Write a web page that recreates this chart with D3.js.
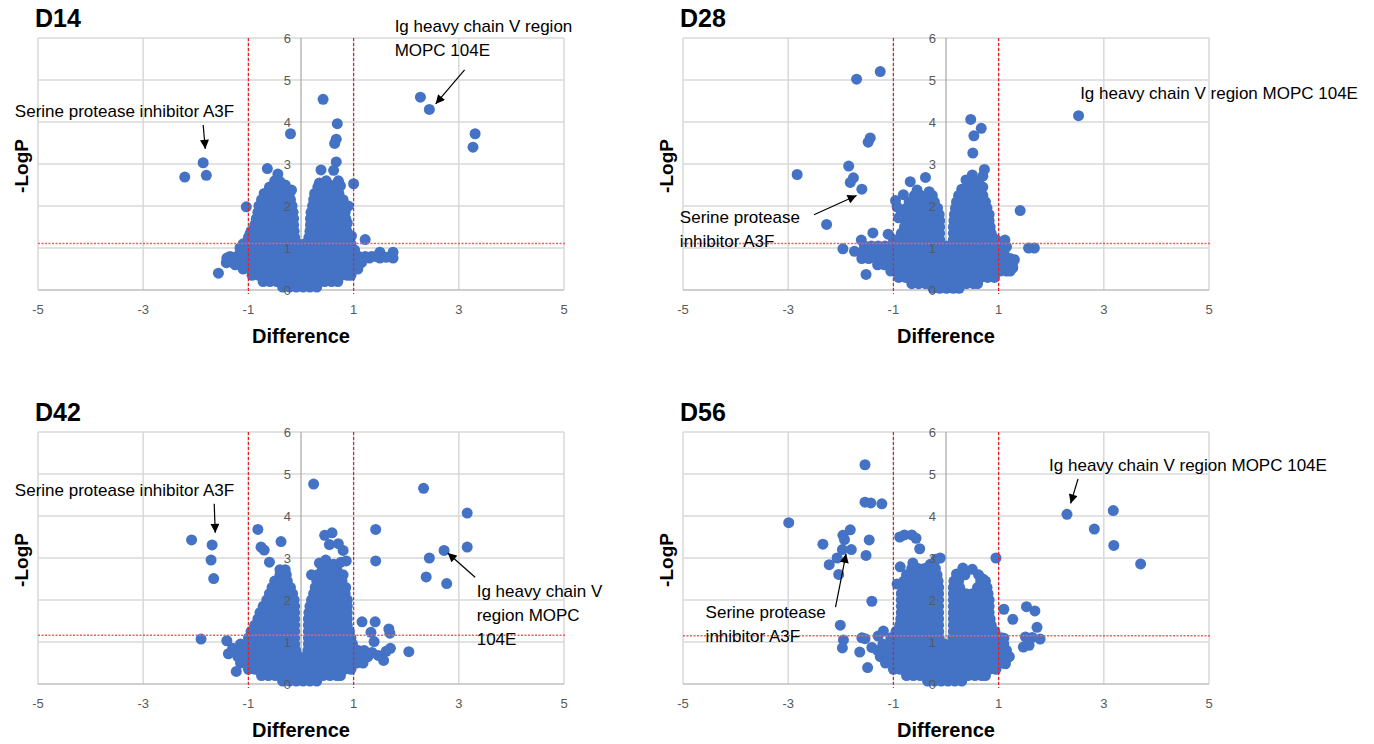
<!DOCTYPE html>
<html>
<head>
<meta charset="utf-8">
<script src="https://cdn.jsdelivr.net/npm/d3@7"></script>
<style>
  body { margin: 0; background: #fff; }
  text { font-family: "Liberation Sans", Arial, sans-serif; }
</style>
</head>
<body>
<svg id="chart" width="1374" height="744"></svg>
<script>
const panelNames = ['D14', 'D28', 'D42', 'D56'];
const xTicks = [-5, -3, -1, 1, 3, 5];
const yTicks = [0, 1, 2, 3, 4, 5, 6];
const foldCut = [-1, 1];
const pCut = [1.11, 1.11, 1.16, 1.15];

// single proteins away from the main cloud [difference, -logP]
const d14Points = [
  [-2.21, 2.69], [-1.86, 3.03], [-1.8, 2.73], [-1.57, 0.4], [-1.04, 1.98], [-0.97, 1.33],
  [-1.41, 0.76], [-1.28, 0.72], [-1.25, 0.6], [-1.16, 1.0],
  [-0.2, 3.72], [0.42, 4.54], [0.69, 3.96], [0.67, 3.59], [0.64, 3.49], [0.67, 3.05],
  [0.38, 2.86], [0.62, 2.85], [0.71, 2.6], [0.75, 2.48], [0.72, 2.55], [1.0, 2.53],
  [-0.64, 2.89], [-0.44, 2.76], [-0.5, 2.6], [-0.4, 2.58], [-0.18, 2.38], [-0.3, 2.5],
  [2.27, 4.59], [2.44, 4.3], [3.31, 3.72], [3.27, 3.4],
  [0.96, 1.29], [1.22, 1.2], [0.9, 2.0], [0.88, 1.6],
  [1.5, 0.9], [1.75, 0.9], [1.5, 0.76], [1.75, 0.76], [1.3, 0.76], [1.42, 0.8], [1.62, 0.78],
  [0.35, 2.55], [0.48, 2.6], [0.55, 2.5]
];
// dense cloud, one row per -logP level: [ -logP, [differences] ]
const d14Cloud = [
  [2.45, [-0.6, -0.48, -0.36, 0.32, 0.45, 0.58]],
  [2.3, [-0.7, -0.57, -0.44, -0.31, -0.22, 0.26, 0.36, 0.47, 0.59, 0.72]],
  [2.15, [-0.75, -0.62, -0.49, -0.36, -0.24, -0.2, 0.24, 0.33, 0.44, 0.57, 0.7, 0.8]],
  [2.0, [-0.8, -0.67, -0.54, -0.41, -0.28, -0.17, 0.22, 0.32, 0.43, 0.54, 0.67, 0.8]],
  [1.85, [-0.82, -0.69, -0.56, -0.43, -0.3, -0.15, 0.19, 0.3, 0.42, 0.54, 0.66, 0.78, 0.84]],
  [1.7, [-0.85, -0.72, -0.59, -0.46, -0.33, -0.2, -0.14, 0.18, 0.3, 0.42, 0.54, 0.66, 0.78, 0.85]],
  [1.55, [-0.88, -0.75, -0.62, -0.49, -0.36, -0.23, -0.14, 0.18, 0.3, 0.42, 0.54, 0.66, 0.78, 0.86]],
  [1.4, [-0.95, -0.82, -0.69, -0.56, -0.43, -0.3, -0.17, -0.13, 0.17, 0.29, 0.41, 0.53, 0.65, 0.77, 0.87]],
  [1.25, [-1.0, -0.87, -0.74, -0.61, -0.48, -0.35, -0.22, -0.12, 0.15, 0.27, 0.39, 0.51, 0.63, 0.75, 0.87, 0.9]],
  [1.1, [-1.1, -0.97, -0.84, -0.71, -0.58, -0.45, -0.32, -0.19, -0.06, 0.07, 0.2, 0.33, 0.46, 0.59, 0.72, 0.85, 0.95]],
  [0.95, [-1.15, -1.02, -0.89, -0.76, -0.63, -0.5, -0.37, -0.24, -0.11, 0.02, 0.15, 0.28, 0.41, 0.54, 0.67, 0.8, 0.93, 1.02]],
  [0.8, [-1.35, -1.22, -1.09, -0.96, -0.83, -0.7, -0.57, -0.44, -0.31, -0.18, -0.05, 0.08, 0.21, 0.34, 0.47, 0.6, 0.73, 0.86, 0.99, 1.1, 1.22, 1.34]],
  [0.65, [-1.42, -1.3, -1.17, -1.04, -0.91, -0.78, -0.65, -0.52, -0.39, -0.26, -0.13, 0, 0.13, 0.26, 0.39, 0.52, 0.65, 0.78, 0.91, 1.04, 1.15]],
  [0.5, [-1.1, -0.97, -0.84, -0.71, -0.58, -0.45, -0.32, -0.19, -0.06, 0.07, 0.2, 0.33, 0.46, 0.59, 0.72, 0.85, 0.98, 1.08]],
  [0.35, [-0.93, -0.8, -0.67, -0.54, -0.41, -0.28, -0.15, -0.02, 0.11, 0.24, 0.37, 0.5, 0.63, 0.76, 0.88, 0.95]],
  [0.2, [-0.72, -0.59, -0.46, -0.33, -0.2, -0.07, 0.06, 0.19, 0.32, 0.45, 0.58, 0.7]],
  [0.07, [-0.35, -0.22, -0.09, 0.04, 0.17, 0.3]]
];

const d28Points = [
  [-1.25, 5.2], [-1.7, 5.02], [2.52, 4.15], [0.47, 4.06], [0.67, 3.85], [0.53, 3.67], [0.51, 3.26],
  [-1.44, 3.62], [-1.48, 3.52], [-1.85, 2.95], [-2.83, 2.75], [-1.76, 2.67], [-1.82, 2.56], [-1.6, 2.4],
  [-2.27, 1.56], [1.41, 1.89], [-0.39, 2.68], [-0.68, 2.58], [0.73, 2.87], [0.5, 2.74], [0.7, 2.71],
  [-0.32, 2.34], [-0.81, 2.27], [-1.39, 1.36], [-1.1, 1.33], [-1.61, 1.19], [-1.96, 0.98], [-1.74, 0.92],
  [-1.52, 0.37], [1.57, 1.0], [1.68, 1.0], [-0.96, 2.13], [-0.93, 1.98], [1.12, 1.19], [1.15, 1.03],
  [1.3, 0.72], [1.27, 0.53], [0.55, 2.55], [0.38, 2.62], [0.7, 2.45], [0.62, 2.6], [-0.85, 1.88],
  [-0.9, 1.72], [-0.55, 2.38]
];
const d28Cloud = [
  [2.4, [0.3, 0.42, 0.54, 0.62]],
  [2.25, [-0.6, -0.48, -0.36, -0.26, 0.24, 0.36, 0.48, 0.6, 0.7]],
  [2.1, [-0.7, -0.58, -0.46, -0.34, -0.22, 0.2, 0.32, 0.44, 0.56, 0.68, 0.75]],
  [1.95, [-0.75, -0.63, -0.51, -0.39, -0.27, -0.16, 0.18, 0.3, 0.42, 0.54, 0.66, 0.78]],
  [1.8, [-0.76, -0.64, -0.52, -0.4, -0.28, -0.18, -0.13, 0.16, 0.28, 0.4, 0.52, 0.64, 0.76, 0.82]],
  [1.65, [-0.77, -0.65, -0.53, -0.41, -0.29, -0.18, -0.12, 0.15, 0.27, 0.39, 0.51, 0.63, 0.75, 0.82]],
  [1.5, [-0.79, -0.67, -0.55, -0.43, -0.31, -0.19, -0.12, 0.14, 0.26, 0.38, 0.5, 0.62, 0.74, 0.84]],
  [1.35, [-0.85, -0.73, -0.61, -0.49, -0.37, -0.25, -0.12, 0.14, 0.26, 0.38, 0.5, 0.62, 0.74, 0.86]],
  [1.2, [-1.0, -0.87, -0.74, -0.61, -0.48, -0.35, -0.22, -0.12, 0.14, 0.26, 0.38, 0.5, 0.62, 0.74, 0.86, 0.95]],
  [1.05, [-1.55, -1.42, -1.29, -1.16, -1.03, -0.9, -0.77, -0.64, -0.51, -0.38, -0.25, -0.12, 0.01, 0.14, 0.27, 0.4, 0.53, 0.66, 0.79, 0.92, 1.05]],
  [0.9, [-1.6, -1.47, -1.34, -1.21, -1.08, -0.95, -0.82, -0.69, -0.56, -0.43, -0.3, -0.17, -0.04, 0.09, 0.22, 0.35, 0.48, 0.61, 0.74, 0.87, 1.0, 1.1]],
  [0.75, [-1.6, -1.47, -1.34, -1.21, -1.08, -0.95, -0.82, -0.69, -0.56, -0.43, -0.3, -0.17, -0.04, 0.09, 0.22, 0.35, 0.48, 0.61, 0.74, 0.87, 1.0, 1.12, 1.22]],
  [0.6, [-1.3, -1.17, -1.04, -0.91, -0.78, -0.65, -0.52, -0.39, -0.26, -0.13, 0, 0.13, 0.26, 0.39, 0.52, 0.65, 0.78, 0.91, 1.04, 1.16, 1.26]],
  [0.45, [-1.05, -0.92, -0.79, -0.66, -0.53, -0.4, -0.27, -0.14, -0.01, 0.12, 0.25, 0.38, 0.51, 0.64, 0.77, 0.9, 1.03, 1.15, 1.22]],
  [0.3, [-0.9, -0.77, -0.64, -0.51, -0.38, -0.25, -0.12, 0.01, 0.14, 0.27, 0.4, 0.53, 0.66, 0.79, 0.92]],
  [0.15, [-0.65, -0.52, -0.39, -0.26, -0.13, 0, 0.13, 0.26, 0.39, 0.52, 0.6]],
  [0.04, [-0.25, -0.12, 0.01, 0.14, 0.25]]
];

const d42Points = [
  [0.24, 4.76], [2.33, 4.66], [3.16, 4.07], [3.16, 3.26], [1.42, 3.68], [1.42, 2.93], [2.72, 3.18],
  [2.44, 3.0], [2.38, 2.55], [2.77, 2.39], [-2.08, 3.43], [-1.69, 3.31], [-1.71, 2.95], [-1.66, 2.51],
  [-0.82, 3.68], [-0.38, 3.39], [-0.76, 3.26], [-0.7, 3.19], [-0.6, 2.9], [0.45, 3.54], [0.59, 3.6],
  [0.54, 3.32], [0.71, 3.34], [0.8, 3.18], [0.86, 2.93], [-1.9, 1.07], [-1.41, 1.03], [-1.23, 0.3],
  [1.16, 1.48], [1.41, 1.48], [1.33, 1.23], [1.39, 1.01], [1.67, 1.31], [1.69, 1.21], [1.7, 0.85],
  [1.62, 0.78], [2.05, 0.77], [1.57, 0.56], [1.07, 0.77], [1.26, 0.66], [-0.4, 2.72], [-0.3, 2.72],
  [0.35, 2.88], [0.47, 2.95], [0.62, 2.85], [0.76, 2.9], [0.4, 2.7], [1.35, 0.75], [1.47, 0.68],
  [-1.3, 0.85], [-1.38, 0.72], [0.2, 2.6]
];
const d42Cloud = [
  [2.75, [0.42, 0.55, 0.68]],
  [2.6, [-0.4, -0.28, 0.32, 0.44, 0.56, 0.68, 0.8]],
  [2.45, [-0.5, -0.38, -0.26, 0.3, 0.42, 0.54, 0.66, 0.78]],
  [2.3, [-0.55, -0.43, -0.31, -0.2, 0.27, 0.39, 0.51, 0.63, 0.75, 0.85]],
  [2.15, [-0.6, -0.48, -0.36, -0.24, -0.16, 0.24, 0.36, 0.48, 0.6, 0.72, 0.84]],
  [2.0, [-0.65, -0.53, -0.41, -0.29, -0.17, -0.13, 0.2, 0.32, 0.44, 0.56, 0.68, 0.8, 0.88]],
  [1.85, [-0.72, -0.6, -0.48, -0.36, -0.24, -0.12, 0.17, 0.29, 0.41, 0.53, 0.65, 0.77, 0.88]],
  [1.7, [-0.78, -0.66, -0.54, -0.42, -0.3, -0.18, -0.12, 0.15, 0.27, 0.39, 0.51, 0.63, 0.75, 0.88]],
  [1.55, [-0.82, -0.7, -0.58, -0.46, -0.34, -0.22, -0.12, 0.14, 0.26, 0.38, 0.5, 0.62, 0.74, 0.88]],
  [1.4, [-0.88, -0.76, -0.64, -0.52, -0.4, -0.28, -0.16, -0.12, 0.14, 0.26, 0.38, 0.5, 0.62, 0.74, 0.88]],
  [1.25, [-0.95, -0.83, -0.71, -0.59, -0.47, -0.35, -0.23, -0.12, 0.14, 0.26, 0.38, 0.5, 0.62, 0.74, 0.86, 0.92]],
  [1.1, [-1.0, -0.88, -0.76, -0.64, -0.52, -0.4, -0.28, -0.16, -0.12, 0.14, 0.26, 0.38, 0.5, 0.62, 0.74, 0.86, 0.95]],
  [0.95, [-1.15, -1.03, -0.91, -0.79, -0.67, -0.55, -0.43, -0.31, -0.19, -0.12, 0.14, 0.26, 0.38, 0.5, 0.62, 0.74, 0.86, 0.98]],
  [0.8, [-1.25, -1.13, -1.01, -0.89, -0.77, -0.65, -0.53, -0.41, -0.29, -0.17, -0.1, 0.13, 0.25, 0.37, 0.49, 0.61, 0.73, 0.85, 0.97, 1.09, 1.2]],
  [0.65, [-1.2, -1.07, -0.94, -0.81, -0.68, -0.55, -0.42, -0.29, -0.16, -0.03, 0.1, 0.23, 0.36, 0.49, 0.62, 0.75, 0.88, 1.01, 1.14, 1.27]],
  [0.5, [-1.15, -1.02, -0.89, -0.76, -0.63, -0.5, -0.37, -0.24, -0.11, 0.02, 0.15, 0.28, 0.41, 0.54, 0.67, 0.8, 0.93, 1.06, 1.18]],
  [0.35, [-1.0, -0.87, -0.74, -0.61, -0.48, -0.35, -0.22, -0.09, 0.04, 0.17, 0.3, 0.43, 0.56, 0.69, 0.82, 0.95]],
  [0.2, [-0.75, -0.62, -0.49, -0.36, -0.23, -0.1, 0.03, 0.16, 0.29, 0.42, 0.55, 0.68, 0.75]],
  [0.07, [-0.35, -0.22, -0.09, 0.04, 0.17, 0.3]]
];

const d56Points = [
  [-1.54, 5.22], [-1.54, 4.33], [-1.43, 4.31], [-1.22, 4.29], [-2.99, 3.84], [2.3, 4.04], [3.18, 4.13],
  [2.82, 3.69], [3.19, 3.3], [3.7, 2.86], [-1.82, 3.67], [-1.96, 3.54], [-1.93, 3.44], [-2.34, 3.33],
  [-1.46, 3.43], [-1.97, 3.2], [-1.8, 3.2], [-2.07, 3.0], [-2.22, 2.84], [-2.04, 2.61], [-1.52, 3.06],
  [-1.41, 1.97], [-2.01, 1.4], [-1.95, 1.05], [-1.97, 0.86], [-1.64, 0.76], [-1.49, 0.39], [-1.6, 1.1],
  [-1.54, 1.08], [-1.41, 0.87], [-1.29, 1.14], [-1.19, 1.26], [0.95, 3.0], [1.1, 1.78], [1.27, 1.54],
  [1.53, 1.84], [1.69, 1.74], [1.73, 1.35], [1.51, 1.12], [1.64, 1.11], [1.79, 1.07], [1.47, 0.88],
  [1.58, 0.92], [1.1, 1.09], [1.2, 0.65], [1.13, 0.48], [-0.88, 3.5], [-0.79, 3.55], [-0.65, 3.55],
  [-0.57, 3.47], [-0.5, 3.22], [-0.11, 3.0], [-0.19, 2.97], [-0.63, 2.88], [-0.87, 2.79], [-0.93, 2.38],
  [0.32, 2.76], [0.5, 2.73], [0.2, 2.62], [0.62, 2.6], [0.7, 2.5], [-0.3, 2.85], [-0.2, 2.75]
];
const d56Cloud = [
  [2.75, [-0.65, -0.53, -0.41, -0.3]],
  [2.6, [-0.75, -0.63, -0.51, -0.39, -0.27, -0.17, 0.24, 0.36]],
  [2.45, [-0.8, -0.68, -0.56, -0.44, -0.32, -0.2, -0.15, 0.15, 0.24, 0.66, 0.75]],
  [2.3, [-0.82, -0.7, -0.58, -0.46, -0.34, -0.22, -0.14, 0.14, 0.26, 0.6, 0.7, 0.78]],
  [2.15, [-0.85, -0.73, -0.61, -0.49, -0.37, -0.25, -0.14, 0.14, 0.26, 0.38, 0.5, 0.62, 0.74, 0.8]],
  [2.0, [-0.85, -0.73, -0.61, -0.49, -0.37, -0.25, -0.14, 0.14, 0.26, 0.38, 0.5, 0.62, 0.74, 0.82]],
  [1.85, [-0.85, -0.73, -0.61, -0.49, -0.37, -0.25, -0.14, 0.14, 0.26, 0.38, 0.5, 0.62, 0.74, 0.82]],
  [1.7, [-0.85, -0.73, -0.61, -0.49, -0.37, -0.25, -0.14, 0.14, 0.26, 0.38, 0.5, 0.62, 0.74, 0.82]],
  [1.55, [-0.86, -0.74, -0.62, -0.5, -0.38, -0.26, -0.14, 0.14, 0.26, 0.38, 0.5, 0.62, 0.74, 0.84]],
  [1.4, [-0.88, -0.76, -0.64, -0.52, -0.4, -0.28, -0.14, 0.14, 0.26, 0.38, 0.5, 0.62, 0.74, 0.86]],
  [1.25, [-0.95, -0.83, -0.71, -0.59, -0.47, -0.35, -0.23, -0.14, 0.14, 0.26, 0.38, 0.5, 0.62, 0.74, 0.86, 0.93]],
  [1.1, [-1.05, -0.93, -0.81, -0.69, -0.57, -0.45, -0.33, -0.21, -0.13, 0.13, 0.25, 0.37, 0.49, 0.61, 0.73, 0.85, 0.97, 1.05]],
  [0.95, [-1.2, -1.07, -0.94, -0.81, -0.68, -0.55, -0.42, -0.29, -0.16, -0.03, 0.1, 0.23, 0.36, 0.49, 0.62, 0.75, 0.88, 1.01, 1.1]],
  [0.8, [-1.3, -1.17, -1.04, -0.91, -0.78, -0.65, -0.52, -0.39, -0.26, -0.13, 0, 0.13, 0.26, 0.39, 0.52, 0.65, 0.78, 0.91, 1.04, 1.15]],
  [0.65, [-1.25, -1.12, -0.99, -0.86, -0.73, -0.6, -0.47, -0.34, -0.21, -0.08, 0.05, 0.18, 0.31, 0.44, 0.57, 0.7, 0.83, 0.96, 1.09, 1.2]],
  [0.5, [-1.15, -1.02, -0.89, -0.76, -0.63, -0.5, -0.37, -0.24, -0.11, 0.02, 0.15, 0.28, 0.41, 0.54, 0.67, 0.8, 0.93, 1.06, 1.12]],
  [0.35, [-1.0, -0.87, -0.74, -0.61, -0.48, -0.35, -0.22, -0.09, 0.04, 0.17, 0.3, 0.43, 0.56, 0.69, 0.82, 0.95]],
  [0.2, [-0.75, -0.62, -0.49, -0.36, -0.23, -0.1, 0.03, 0.16, 0.29, 0.42, 0.55, 0.68, 0.75]],
  [0.07, [-0.35, -0.22, -0.09, 0.04, 0.17, 0.3]]
];

// annotations in data units: text lines anchored at (x, y), arrows [x1, y1, x2, y2]
const igLabel = 'Ig heavy chain V region MOPC 104E';
const serpinLabel = 'Serine protease inhibitor A3F';
const panelNotes = [
  [{ lines: ['Ig heavy chain V region', 'MOPC 104E'], x: 1.78, y: 6.14 },
   { lines: [serpinLabel], x: -5.44, y: 4.12 }],
  [{ lines: [igLabel], x: 2.55, y: 4.54 },
   { lines: ['Serine protease', 'inhibitor A3F'], x: -5.06, y: 1.6 }],
  [{ lines: [serpinLabel], x: -5.44, y: 4.48 },
   { lines: ['Ig heavy chain V', 'region MOPC', '104E'], x: 3.34, y: 2.07 }],
  [{ lines: [igLabel], x: 1.96, y: 5.07 },
   { lines: ['Serine protease', 'inhibitor A3F'], x: -4.57, y: 1.57 }]
];
const panelArrows = [
  [[3.11, 5.24, 2.56, 4.43], [-1.86, 3.93, -1.82, 3.36]],
  [[-2.51, 1.79, -1.7, 2.25]],
  [[-1.65, 4.29, -1.63, 3.6], [3.31, 2.54, 2.79, 3.12]],
  [[2.51, 4.88, 2.37, 4.3], [-2.1, 1.83, -1.9, 3.1]]
];

const panelPoints = [d14Points, d28Points, d42Points, d56Points];
const panelClouds = [d14Cloud, d28Cloud, d42Cloud, d56Cloud];

const svg = d3.select('#chart');
const plotW = 526, plotH = 252;
const origins = [[38, 38], [683, 38], [38, 432], [683, 432]];

svg.append('defs').append('marker')
  .attr('id', 'head')
  .attr('viewBox', '0 0 10 10')
  .attr('refX', 10).attr('refY', 5)
  .attr('markerWidth', 10).attr('markerHeight', 9)
  .attr('markerUnits', 'userSpaceOnUse')
  .attr('orient', 'auto')
  .append('path').attr('d', 'M0,0L10,5L0,10Z').attr('fill', '#000');

panelNames.forEach((name, i) => {
  const [left, top] = origins[i];
  const g = svg.append('g').attr('transform', `translate(${left},${top})`);
  const x = d3.scaleLinear().domain([-5, 5]).range([0, plotW]);
  const y = d3.scaleLinear().domain([0, 6]).range([plotH, 0]);

  // grid
  g.selectAll('.vgrid').data(xTicks).enter().append('line')
    .attr('x1', d => x(d)).attr('x2', d => x(d))
    .attr('y1', y(0)).attr('y2', y(6))
    .attr('stroke', '#d9d9d9').attr('stroke-width', 1.5);
  g.selectAll('.hgrid').data(yTicks).enter().append('line')
    .attr('x1', x(-5)).attr('x2', x(5))
    .attr('y1', d => y(d)).attr('y2', d => y(d))
    .attr('stroke', d => d === 0 ? '#bfbfbf' : '#d9d9d9').attr('stroke-width', 1.5);
  g.append('line')
    .attr('x1', x(0)).attr('x2', x(0)).attr('y1', y(0)).attr('y2', y(6))
    .attr('stroke', '#a6a6a6').attr('stroke-width', 1.2);

  // points
  const cloud = panelClouds[i].flatMap(([p, xs]) => xs.map(d => [d, p]));
  const all = cloud.concat(panelPoints[i]);
  g.selectAll('.pt').data(all).enter().append('circle')
    .attr('cx', d => x(d[0])).attr('cy', d => y(d[1]))
    .attr('r', 5.5).attr('fill', '#4472C4');

  // cut-off lines
  g.selectAll('.fold').data(foldCut).enter().append('line')
    .attr('x1', d => x(d)).attr('x2', d => x(d))
    .attr('y1', y(6)).attr('y2', y(0) + 4)
    .attr('stroke', '#ee1c24').attr('stroke-width', 1.2)
    .attr('stroke-dasharray', '3,2');
  g.append('line')
    .attr('x1', x(-5)).attr('x2', x(5) + 2)
    .attr('y1', y(pCut[i])).attr('y2', y(pCut[i]))
    .attr('stroke', '#ff5a5f').attr('stroke-width', 1.5)
    .attr('stroke-dasharray', '2,1.5');

  // tick labels
  g.selectAll('.ylab').data(yTicks).enter().append('text')
    .attr('x', x(0) - 10).attr('y', d => y(d) + 4.5)
    .attr('text-anchor', 'end')
    .attr('font-size', 13).attr('fill', '#595959')
    .text(d => d);
  g.selectAll('.xlab').data(xTicks).enter().append('text')
    .attr('x', d => x(d)).attr('y', plotH + 24)
    .attr('text-anchor', 'middle')
    .attr('font-size', 13).attr('fill', '#595959')
    .text(d => d);

  // titles
  g.append('text')
    .attr('x', -3).attr('y', -11)
    .attr('font-size', 25).attr('font-weight', 'bold').attr('fill', '#000')
    .text(name);
  g.append('text')
    .attr('x', x(0)).attr('y', plotH + 53)
    .attr('text-anchor', 'middle')
    .attr('font-size', 20).attr('font-weight', 'bold').attr('fill', '#000')
    .text('Difference');
  g.append('text')
    .attr('transform', `translate(-10,${plotH / 2 + 2}) rotate(-90)`)
    .attr('text-anchor', 'middle')
    .attr('font-size', 19).attr('font-weight', 'bold').attr('fill', '#000')
    .text('-LogP');

  // annotations
  panelNotes[i].forEach(note => {
    const t = g.append('text')
      .attr('x', x(note.x)).attr('y', y(note.y))
      .attr('font-size', 17).attr('fill', '#000');
    note.lines.forEach((line, k) => {
      t.append('tspan').attr('x', x(note.x)).attr('dy', k === 0 ? 0 : 24).text(line);
    });
  });
  g.selectAll('.arrow').data(panelArrows[i]).enter().append('line')
    .attr('x1', d => x(d[0])).attr('y1', d => y(d[1]))
    .attr('x2', d => x(d[2])).attr('y2', d => y(d[3]))
    .attr('stroke', '#000').attr('stroke-width', 1.2)
    .attr('marker-end', 'url(#head)');
});
</script>
</body>
</html>
